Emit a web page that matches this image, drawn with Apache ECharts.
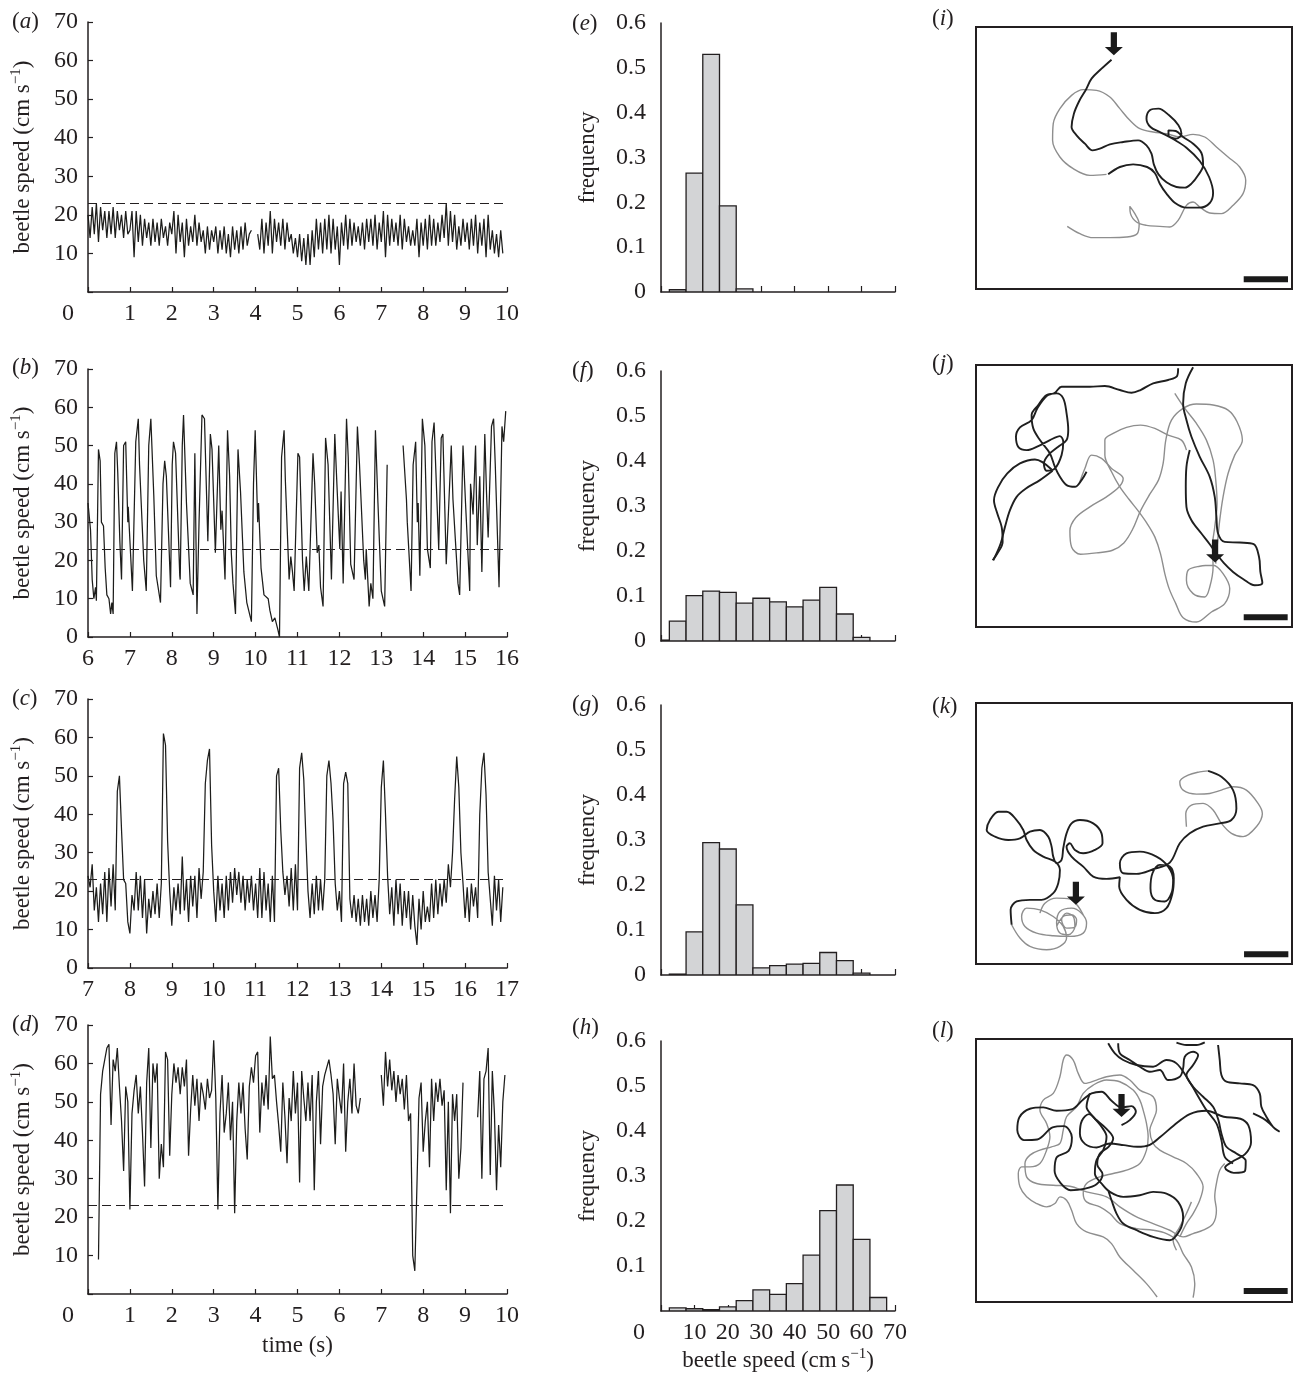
<!DOCTYPE html>
<html><head><meta charset="utf-8">
<script src="https://cdn.jsdelivr.net/npm/echarts@6/dist/echarts.min.js"></script>
<style>html,body{margin:0;padding:0;background:#fff}#c{width:1298px;height:1380px}</style>
</head><body><div id="c"></div><script>
// ---------------- DATA ----------------
const threshold = 23;               // dashed line (cm s-1)
const stepA = 0.05, startA = 0;     // panel (a) sampling
const speedA = [
20,14,22,15,23,13,22,16,21,14,21,15,22,14,21,16,20,14,21,15,
16,21,9,21,13,20,12,19,14,18,12,19,13,18,12,19,14,17,12,18,
15,21,10,20,13,18,9,19,12,17,13,20,12,18,13,16,10,17,11,16,
13,17,10,16,11,17,10,15,9,17,11,16,10,17,11,18,12,15,16,null,
null,15,11,19,10,18,12,21,10,19,13,18,12,19,11,18,13,15,10,14,
9,15,8,14,7,15,7,16,9,19,11,18,10,19,11,20,10,19,11,17,
7,18,12,20,11,19,12,18,13,17,12,18,11,19,13,19,12,20,11,18,
13,21,9,20,12,19,13,18,12,20,11,19,13,17,12,16,12,19,9,18,
12,19,11,20,12,19,12,18,13,20,14,23,12,21,13,20,11,17,12,19,
13,18,11,19,12,20,10,18,12,19,9,20,11,16,10,15,9,16,10,null];

const seriesB = [
[6.00,35],[6.06,28],[6.10,15],[6.14,10],[6.18,13],[6.20,9.5],[6.25,49],[6.29,46],[6.32,30],[6.37,29],
[6.41,18],[6.45,11],[6.50,10],[6.54,6],[6.57,9],[6.60,6],[6.64,48],[6.68,51],[6.71,43],[6.76,25],
[6.80,15],[6.85,50],[6.90,51],[6.95,30],[6.96,34],[7.06,12],[7.14,51],[7.20,57],[7.23,45],[7.29,30],
[7.33,20],[7.39,12],[7.45,50],[7.50,57],[7.57,37],[7.63,16],[7.73,9],[7.79,40],[7.83,46],[7.87,42],
[7.97,13],[8.01,45],[8.04,51],[8.09,48],[8.19,16],[8.20,15],[8.25,50],[8.28,58],[8.35,35],[8.44,14],
[8.51,11],[8.55,48],[8.60,6],[8.65,30],[8.72,58],[8.78,57],[8.81,45],[8.86,25],[8.92,53],[8.96,49],
[9.04,22],[9.12,50],[9.17,28],[9.20,33],[9.27,15],[9.33,54],[9.38,42],[9.42,22],[9.46,14],[9.52,6],
[9.58,49],[9.64,38],[9.72,17],[9.79,9],[9.90,4],[9.95,40],[9.99,54],[10.05,30],[10.07,35],[10.13,18],
[10.20,11],[10.30,10],[10.34,7],[10.40,4],[10.46,5],[10.53,2],[10.57,0],[10.62,47],[10.68,54],[10.71,41],
[10.80,15],[10.84,21],[10.88,17],[10.92,12],[11.01,48],[11.05,47],[11.12,20],[11.16,12],[11.21,21],[11.27,12],
[11.37,48],[11.41,40],[11.47,22],[11.51,24],[11.55,13],[11.61,8],[11.67,52],[11.73,45],[11.81,15],[11.89,53],
[11.94,40],[12.01,23],[12.04,38],[12.09,14],[12.17,57],[12.21,47],[12.27,19],[12.35,15],[12.43,55],[12.48,45],
[12.58,20],[12.62,15],[12.64,23],[12.71,8],[12.75,14],[12.80,10],[12.86,54],[12.92,35],[13.00,12],[13.08,8],
[13.14,45],[13.30,null],[13.52,50],[13.60,36],[13.62,30],[13.68,18],[13.71,12],[13.76,45],[13.82,51],[13.86,30],
[13.88,35],[13.92,16],[13.98,57],[14.04,50],[14.10,23],[14.17,18],[14.21,51],[14.26,56],[14.37,23],[14.43,52],
[14.47,53],[14.55,19],[14.67,50],[14.71,36],[14.83,14],[14.87,11],[14.95,50],[15.01,35],[15.11,12],[15.13,40],
[15.19,32],[15.25,50],[15.29,24],[15.35,42],[15.40,17],[15.47,53],[15.51,38],[15.55,26],[15.63,55],[15.68,57],
[15.72,45],[15.81,13],[15.88,55],[15.92,51],[15.97,59]];

const stepC = 0.05, startC = 7;
const speedC = [
24,21,27,15,21,12,22,14,25,12,26,16,27,15,46,50,36,23,22,12,
9,19,15,25,15,24,13,23,9,18,13,20,14,22,13,22,61,58,33,20,
11,21,15,22,14,29,15,23,12,24,16,24,13,26,18,25,48,54,57,32,
20,12,24,15,22,13,24,15,25,17,26,19,25,17,24,15,23,17,24,15,
22,13,26,13,25,15,22,12,24,12,50,52,36,25,19,24,16,26,15,27,
15,52,56,49,34,20,13,22,14,24,15,23,15,23,50,54,48,38,22,15,
20,12,48,51,48,18,13,19,12,18,11,19,12,18,11,20,13,19,12,23,
47,54,40,24,14,21,11,23,14,22,11,20,13,20,10,19,11,6,18,10,
20,12,16,12,22,13,23,14,22,16,23,17,27,21,30,44,55,47,30,22,
13,21,12,22,16,21,13,40,52,56,45,25,18,11,24,15,23,12,21,null];

const stepD = 0.05, startD = 0;
const speedD = [
null,null,null,null,null,9,52,58,61,64,65,44,61,58,64,54,45,32,54,50,
22,47,53,57,47,54,42,28,55,64,38,60,55,60,30,39,33,63,61,36,
52,60,55,59,52,59,54,61,36,48,57,49,56,45,55,52,48,56,51,53,
66,51,22,47,57,42,47,55,40,50,21,45,55,47,55,43,35,54,59,55,
62,63,42,55,49,57,48,67,56,57,50,44,37,55,46,34,51,45,58,47,
55,29,58,51,45,55,45,57,27,50,58,39,54,57,59,61,57,52,39,56,
51,47,60,37,50,56,47,60,49,47,51,null,null,null,null,null,null,null,null,null,
57,49,63,54,61,53,58,50,57,52,56,48,57,45,47,10,6,28,51,55,
37,45,50,33,56,45,55,50,56,49,53,27,50,21,52,45,52,30,38,55,
null,null,null,null,null,null,46,58,30,56,58,64,31,58,47,27,44,33,50,57];

const binWidth = 5;
const binCenters = [0,5,10,15,20,25,30,35,40,45,50,55,60,65];
const freqE = [0,0.005,0.265,0.53,0.192,0.007,0,0,0,0,0,0,0,0];
const freqF = [0.002,0.044,0.101,0.111,0.108,0.084,0.095,0.087,0.076,0.091,0.119,0.060,0.008,0];
const freqG = [0,0.002,0.096,0.294,0.280,0.156,0.016,0.021,0.024,0.026,0.050,0.032,0.004,0];
const freqH = [0,0.007,0.005,0.003,0.009,0.023,0.047,0.037,0.061,0.124,0.223,0.280,0.159,0.030];

const timeTicksA = [0,10], timeTicksB = [6,16], timeTicksC = [7,17], timeTicksD = [0,10];

// trajectories (arena coordinates, arbitrary units)
const arenaI = [168,1117,80,866], arenaJ = [168,1117,75,860], arenaK = [168,1117,68,853], arenaL = [168,1117,87,875];
const blackI = [[575,178],[545,205],[515,235],[498,268],[478,302],[462,340],[455,380],[470,405],[495,430],[518,450],[540,445],[570,432],[610,425],[655,420],[680,435],[695,460],[702,492],[716,522],[740,546],[770,560],[795,562],[815,550],[835,525],[850,495],[845,458],[820,430],[790,410],[768,392],[746,390],[746,405],[770,415],[785,400],[776,375],[748,345],[716,325],[690,330],[680,355],[692,380],[722,396],[760,416],[800,442],[840,482],[868,530],[880,578],[870,608],[840,622],[800,622],[766,608],[740,580],[720,550],[705,518],[682,500],[640,492],[600,500],[565,522]];
const greyI = [[442,678],[480,700],[520,712],[570,712],[620,710],[652,700],[658,670],[645,640],[630,618],[632,640],[650,665],[680,675],[720,678],[750,680],[775,660],[800,615],[820,605],[840,620],[870,638],[905,640],[940,615],[970,580],[978,540],[960,500],[925,470],[890,440],[855,410],[820,402],[780,410],[740,400],[700,395],[660,385],[630,360],[600,325],[570,290],[530,270],[490,268],[455,285],[420,325],[400,370],[398,420],[420,470],[460,505],[510,525],[560,522]];

const blackJ1 = [[775,85],[772,108],[745,120],[700,130],[662,150],[635,158],[600,150],[555,138],[510,140],[465,140],[425,140],[405,158],[380,168],[352,205],[335,240],[300,262],[288,290],[296,322],[320,330],[355,318],[390,300],[420,288],[430,305],[425,345],[405,385],[380,392],[372,370],[385,345],[415,320],[440,300],[445,270],[440,220],[430,175],[410,160],[380,165],[355,195],[335,225],[340,265],[360,300],[390,340],[405,380],[420,410],[440,435],[465,440],[485,420],[500,395]];
const blackJ2 = [[398,392],[360,420],[318,445],[290,470],[270,510],[255,560],[242,610],[220,660]];
const blackJ3 = [[395,388],[345,358],[300,370],[262,400],[235,440],[222,480],[232,520],[245,560],[248,605],[232,640],[218,660]];
const blackJ4 = [[820,82],[798,130],[790,190],[800,240],[815,290],[840,350],[870,410],[885,470],[890,530],[895,580],[915,605],[960,607],[1002,612],[1018,650],[1022,695],[1028,728],[1005,735],[970,716],[940,695],[912,668],[890,640],[870,612],[845,580],[815,540],[800,500],[798,440],[800,380],[810,330]];
const greyJ1 = [[765,160],[795,205],[830,250],[860,300],[880,360],[888,420],[892,490],[885,560],[878,620],[880,680],[870,740],[855,770],[820,760],[800,720],[805,690],[840,678],[880,675],[910,700],[930,745],[915,790],[875,815],[830,845],[790,832],[768,790],[748,745],[735,700],[722,640],[705,590],[682,550],[655,512],[628,478],[600,440],[575,395],[555,345],[555,300],[580,280],[620,262],[662,255],[705,265],[745,285],[785,300],[800,330]];
const greyJ2 = [[478,430],[495,385],[515,345],[545,355],[575,385],[610,415],[598,440],[560,470],[510,500],[468,532],[450,572],[455,620],[482,642],[530,638],[578,630],[612,608],[638,568],[662,512],[690,462],[716,420],[730,370],[738,300],[755,240],[790,205],[830,192],[880,195],[925,210],[952,245],[968,300],[945,345],[925,400],[910,470],[900,540],[893,610],[888,670]];

const blackK = [[275,735],[272,690],[290,665],[330,660],[365,660],[400,640],[415,610],[420,570],[405,545],[370,530],[340,510],[320,480],[310,450],[290,420],[260,395],[235,395],[210,420],[200,450],[225,470],[265,480],[300,475],[330,455],[360,450],[385,470],[395,500],[400,530],[410,550],[425,540],[430,505],[440,460],[455,430],[480,420],[520,430],[545,460],[548,490],[525,510],[490,520],[465,510],[450,490],[440,500],[455,530],[490,560],[520,590],[560,597],[600,592],[598,620],[620,660],[660,690],[705,700],[740,685],[758,640],[762,595],[750,560],[720,555],[698,580],[692,625],[705,660],[735,665],[755,640],[760,600],[745,560],[710,530],[660,515],[620,520],[600,550],[610,580],[650,582],[700,568],[750,548],[780,490],[810,460],[850,440],[900,430],[935,420],[950,385],[940,330],[905,290],[865,272]];
const greyK1 = [[800,440],[798,400],[815,375],[850,370],[880,390],[905,430],[935,460],[970,470],[1010,440],[1028,400],[1015,370],[980,330],[940,320],[905,330],[870,340],[830,342],[790,330],[780,305],[805,285],[840,275],[865,272]];
const greyK2 = [[275,735],[300,775],[330,800],[380,810],[420,800],[440,775],[430,740],[400,710],[360,690],[320,685],[305,710],[315,740],[350,760],[400,768],[450,770],[490,760],[500,730],[485,700],[455,685],[420,695],[410,730],[420,760],[445,765],[465,740],[460,710],[440,700],[425,720],[440,745],[465,742],[470,720],[455,705],[430,710],[410,740]];
const greyK3 = [[360,700],[375,670],[410,655],[450,658],[475,680],[490,705]];

const blackL1 = [[605,345],[630,330],[648,305],[635,288],[605,292],[575,272],[545,245],[515,250],[490,268],[455,298],[410,302],[370,292],[330,296],[298,322],[292,360],[312,390],[352,388],[398,352],[432,348],[456,382],[446,422],[410,442],[404,482],[420,516],[452,540],[492,536],[530,522],[548,492],[532,462],[540,430],[566,410],[580,385],[560,356],[530,330],[507,312],[486,332],[480,370],[496,402],[530,412],[570,400],[612,405],[652,410],[690,404],[722,380],[762,346],[810,312],[860,302],[912,320],[962,326],[986,346],[994,396],[976,432],[942,452],[916,472],[942,488],[976,482],[978,452],[950,430],[920,410],[905,370],[896,330],[880,290],[850,260],[820,230],[800,195],[820,165],[835,135],[820,125],[795,140],[790,175],[780,200],[745,210],[720,180],[690,185],[660,170],[630,150],[600,130],[595,100]];
const blackL2 = [[565,100],[585,130],[610,150],[650,165],[700,170],[740,150],[770,160],[800,200],[830,250],[860,300],[890,340],[905,390],[915,440],[940,460]];
const blackL3 = [[510,250],[500,290],[520,320],[545,350],[560,380],[550,420],[530,450],[525,490],[545,520],[570,545],[610,560],[660,555],[700,545],[740,550],[775,575],[790,620],[780,660],[750,690],[700,680],[650,660],[610,640],[590,610],[575,570],[565,540]];
const blackL4 = [[895,105],[900,150],[905,195],[920,215],[960,220],[1000,225],[1020,250],[1025,290],[1040,320],[1060,350],[1080,365],[1065,355],[1050,340],[1030,325],[1000,310]];
const blackL5 = [[770,98],[800,105],[830,105],[855,97]];
const greyL1 = [[712,860],[680,820],[640,780],[600,740],[575,700],[550,680],[500,665],[470,640],[455,600],[440,570],[420,560],[405,580],[380,590],[350,580],[320,560],[300,530],[295,490],[305,470],[330,470],[360,460],[380,420],[390,380],[380,340],[360,300],[370,270],[400,250],[420,200],[430,150],[440,135],[460,150],[475,190],[495,220],[530,210],[560,200],[600,195],[630,210],[660,240],[700,260],[710,300],[700,330],[690,360],[700,400],[720,420],[760,440],[800,460],[830,490],[850,530],[840,570],[820,610],[800,640],[780,680]];
const greyL2 = [[820,862],[825,820],[815,770],[790,730],[770,690],[740,670],[700,660],[650,655],[600,640],[570,610],[540,590],[500,575],[490,550],[500,520],[540,500],[580,490],[620,480],[660,460],[680,420],[685,380],[680,340],[670,300],[660,270],[640,240],[600,215],[560,210],[520,225],[490,250],[470,290],[440,320],[430,360],[420,400],[395,410],[360,420],[330,435],[315,460],[320,500],[350,520],[400,525],[450,528],[500,545],[560,560],[600,590],[650,620],[700,640],[750,660],[790,680],[820,670],[850,660],[880,640],[890,600],[885,560],[890,520],[900,480],[915,460]];
const greyL3 = [[815,575],[800,610],[780,650],[760,690],[770,720]];

const startI = [[582,130]], startJ = [[886,632]], startK = [[468,640]], startL = [[605,286]];
const scaleBarI = [[972,837],[1105,837]], scaleBarJ = [[972,831],[1104,831]], scaleBarK = [[973,824],[1106,824]], scaleBarL = [[972,842],[1104,842]];

// ---------------- CHART ----------------
const FONT = '"Liberation Serif","Times New Roman",Times,serif';
const INK = '#231f20';
const TICK_FS = 24;
const supRich = {
  b:{fontFamily:FONT,fontSize:23,color:INK,lineHeight:27},
  s:{fontFamily:FONT,fontSize:15,color:INK,lineHeight:15,verticalAlign:'top'}
};
const speedName = '{b|beetle speed (cm s}{s|\u22121}{b|)}';
const speedNameH = '{b|beetle speed (cm\u2009s}{s|\u22121}{b|)}';

const option = {animation:false, backgroundColor:'#fff', grid:[], xAxis:[], yAxis:[], series:[], graphic:[]};
function addGrid(g){ option.grid.push(g); return option.grid.length-1; }
const labelBase = {color:INK, fontFamily:FONT, fontSize:TICK_FS};

function uniform(vals, t0, dt){ return vals.map((v,i)=>[+(t0+i*dt).toFixed(3), v]); }

const tsPanels = [
  {top:22, height:270, ticks:timeTicksA, data:uniform(speedA,startA,stepA), shiftZero:true},
  {top:369, height:268, ticks:timeTicksB, data:seriesB, shiftZero:false},
  {top:699, height:269, ticks:timeTicksC, data:uniform(speedC,startC,stepC), shiftZero:false},
  {top:1025, height:269, ticks:timeTicksD, data:uniform(speedD,startD,stepD), shiftZero:true, xname:'time (s)'}
];
tsPanels.forEach(p=>{
  const gi = addGrid({left:88, width:419, top:p.top, height:p.height});
  option.xAxis.push({gridIndex:gi, type:'value', min:p.ticks[0], max:p.ticks[1], interval:1,
    axisLine:{show:true, lineStyle:{color:INK,width:1.5}},
    axisTick:{show:true, inside:true, length:5, lineStyle:{color:INK,width:1.2}},
    splitLine:{show:false},
    axisLabel:Object.assign({}, labelBase, {margin:10,
      formatter:v=> (p.shiftZero && v===0) ? '{z|0}' : String(v),
      rich:{z:{fontFamily:FONT,fontSize:TICK_FS,color:INK,padding:[0,40,0,0]}}}),
    name:p.xname||'', nameLocation:'middle', nameGap:40,
    nameTextStyle:{fontFamily:FONT,fontSize:23,color:INK}
  });
  option.yAxis.push({gridIndex:gi, type:'value', min:0, max:70, interval:10,
    axisLine:{show:true, lineStyle:{color:INK,width:1.5}},
    axisTick:{show:true, inside:true, length:5, lineStyle:{color:INK,width:1.2}},
    splitLine:{show:false},
    axisLabel:Object.assign({}, labelBase, {margin:10, formatter:v=> (p.shiftZero && v===0) ? '' : String(v)}),
    name:speedName, nameLocation:'middle', nameRotate:90, nameGap:52,
    nameTextStyle:{rich:supRich}
  });
  option.series.push({type:'line', xAxisIndex:gi, yAxisIndex:gi, data:p.data, showSymbol:false, symbol:'none',
    connectNulls:false, lineStyle:{color:'#1d1d1b', width:1.25},
    markLine:{silent:true, symbol:'none', label:{show:false}, lineStyle:{type:[9,5], color:INK, width:1.1}, data:[{yAxis:threshold}]}
  });
});

const histPanels = [
  {top:23, height:269, freq:freqE},
  {top:371, height:270, freq:freqF},
  {top:705, height:270, freq:freqG},
  {top:1041, height:270, freq:freqH, last:true}
];
histPanels.forEach(p=>{
  const gi = addGrid({left:661, width:234, top:p.top, height:p.height});
  option.xAxis.push({gridIndex:gi, type:'value', min:0, max:70, interval:10,
    axisLine:{show:true, lineStyle:{color:INK,width:1.5}},
    axisTick:{show:true, inside:true, length:6, lineStyle:{color:INK,width:1.2}},
    splitLine:{show:false},
    axisLabel:Object.assign({}, labelBase, {show:!!p.last, margin:10,
      formatter:v=> v===0 ? '{z|0}' : String(v),
      rich:{z:{fontFamily:FONT,fontSize:TICK_FS,color:INK,padding:[0,44,0,0]}}}),
    name:p.last?speedNameH:'', nameLocation:'middle', nameGap:36,
    nameTextStyle:{rich:supRich}
  });
  option.yAxis.push({gridIndex:gi, type:'value', min:0, max:0.6, interval:0.1,
    axisLine:{show:true, lineStyle:{color:INK,width:1.5}},
    axisTick:{show:false},
    splitLine:{show:false},
    axisLabel:Object.assign({}, labelBase, {margin:15,
      formatter:v=> v===0 ? (p.last ? '' : '0') : v.toFixed(1)}),
    name:'frequency', nameLocation:'middle', nameRotate:90, nameGap:62,
    nameTextStyle:{fontFamily:FONT,fontSize:23,color:INK}
  });
  option.series.push({type:'custom', xAxisIndex:gi, yAxisIndex:gi, clip:true,
    data:binCenters.map((c,i)=>[c,p.freq[i]]),
    renderItem:(params, api)=>{
      const x = api.value(0), y = api.value(1);
      if(!y) return null;
      const a = api.coord([x-binWidth/2, y]), b = api.coord([x+binWidth/2, 0]);
      return {type:'rect', shape:{x:a[0], y:a[1], width:b[0]-a[0], height:b[1]-a[1]},
        style:{fill:'#d3d4d6', stroke:INK, lineWidth:1.3}};
    }
  });
});

const arrowPath = 'path://M18,0L37,0L37,45L55,45L27.5,70L0,45L18,45Z';
const trajPanels = [
  {top:27, height:262, arena:arenaI, black:[blackI], grey:[greyI], start:startI, bar:scaleBarI},
  {top:365, height:262, arena:arenaJ, black:[blackJ1,blackJ2,blackJ3,blackJ4], grey:[greyJ1,greyJ2], start:startJ, bar:scaleBarJ},
  {top:703, height:261, arena:arenaK, black:[blackK], grey:[greyK1,greyK2,greyK3], start:startK, bar:scaleBarK},
  {top:1039, height:263, arena:arenaL, black:[blackL1,blackL2,blackL3,blackL4,blackL5], grey:[greyL1,greyL2,greyL3], start:startL, bar:scaleBarL}
];
trajPanels.forEach(p=>{
  const gi = addGrid({left:976, width:316, top:p.top, height:p.height, show:true, borderColor:INK, borderWidth:2, backgroundColor:'transparent'});
  option.xAxis.push({gridIndex:gi, type:'value', min:p.arena[0], max:p.arena[1], show:false});
  option.yAxis.push({gridIndex:gi, type:'value', min:p.arena[2], max:p.arena[3], inverse:true, show:false});
  p.grey.forEach(path=>option.series.push({type:'line', xAxisIndex:gi, yAxisIndex:gi, data:path, showSymbol:false, symbol:'none', smooth:0.35, z:2,
    lineStyle:{color:'#8e8e8e', width:1.4}}));
  p.black.forEach(path=>option.series.push({type:'line', xAxisIndex:gi, yAxisIndex:gi, data:path, showSymbol:false, symbol:'none', smooth:0.35, z:3,
    lineStyle:{color:'#1f1f1f', width:1.9}}));
  option.series.push({type:'line', xAxisIndex:gi, yAxisIndex:gi, data:p.bar, showSymbol:false, symbol:'none', z:4,
    lineStyle:{color:'#1a1a1a', width:6, cap:'butt'}});
  option.series.push({type:'scatter', xAxisIndex:gi, yAxisIndex:gi, data:p.start, symbol:arrowPath, symbolSize:[18,23], z:5,
    itemStyle:{color:'#1a1a1a', opacity:1}});
});

const panelLabels = [
  ['a',12,22],['b',12,368],['c',12,699],['d',12,1025],
  ['e',572,24],['f',572,371],['g',572,705],['h',572,1028],
  ['i',932,19],['j',932,364],['k',932,707],['l',932,1031]
];
panelLabels.forEach(([t,x,y])=>{
  option.graphic.push({type:'text', x:x, y:y, style:{
    text:'({i|'+t+'})', fontFamily:FONT, fontSize:23, fill:INK, verticalAlign:'middle', align:'left',
    rich:{i:{fontStyle:'italic', fontFamily:FONT, fontSize:23, fill:INK}}}});
});

const chart = echarts.init(document.getElementById('c'), null, {renderer:'canvas'});
chart.setOption(option);
</script></body></html>
